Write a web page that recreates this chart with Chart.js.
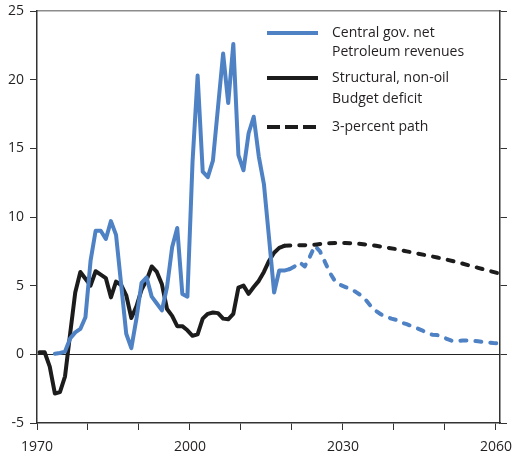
<!DOCTYPE html>
<html>
<head>
<meta charset="utf-8">
<script src="https://cdn.jsdelivr.net/npm/chart.js@4.4.1/dist/chart.umd.min.js"></script>
<style>
    html, body { margin: 0; padding: 0; background: #fff; }
</style>
</head>
<body>
<canvas id="budgetChart" width="512" height="458"></canvas>
<script>
// central gov. net petroleum revenues, historical (solid)
var revYears = [1973, 1974, 1975, 1976, 1977, 1978, 1979, 1980, 1981, 1982, 1983, 1984, 1985, 1986, 1987, 1988, 1989,
    1990, 1991, 1992, 1993, 1994, 1995, 1996, 1997, 1998, 1999, 2000, 2001, 2002, 2003, 2004, 2005, 2006, 2007, 2008,
    2009, 2010, 2011, 2012, 2013, 2014, 2015, 2016, 2017, 2018, 2019];
var revValues = [0.05, 0.1, 0.2, 1.15, 1.6, 1.85, 2.7, 6.8, 9.0, 9.0, 8.4, 9.7, 8.7, 5.1, 1.5, 0.45, 2.6,
    5.2, 5.6, 4.2, 3.7, 3.2, 4.9, 7.8, 9.2, 4.4, 4.2, 14.0, 20.3, 13.3, 12.9, 14.1, 18.0, 21.9, 18.3, 22.6,
    14.5, 13.4, 16.1, 17.3, 14.4, 12.4, 8.5, 4.5, 6.1, 6.1, 6.2];

// petroleum revenues, projection (dashed)
var revProjYears = [2019, 2020, 2021, 2022, 2023, 2024, 2025, 2026, 2027, 2028, 2029, 2030, 2031, 2032, 2033, 2034,
    2035, 2036, 2037, 2038, 2039, 2040, 2041, 2042, 2043, 2044, 2045, 2046, 2047, 2048, 2049, 2050, 2051, 2052,
    2053, 2054, 2055, 2056, 2057, 2058, 2059, 2060];
var revProjValues = [6.2, 6.4, 6.7, 6.4, 7.1, 7.9, 7.5, 6.7, 5.9, 5.3, 5.05, 4.9, 4.75, 4.55, 4.3, 3.95,
    3.5, 3.15, 2.9, 2.75, 2.6, 2.5, 2.3, 2.2, 2.05, 1.9, 1.75, 1.55, 1.43, 1.4, 1.3, 1.1, 0.97, 0.98,
    1.0, 1.0, 0.98, 0.95, 0.9, 0.86, 0.82, 0.8];

// structural, non-oil budget deficit
var deficitYears = [1970, 1971, 1972, 1973, 1974, 1975, 1976, 1977, 1978, 1979, 1980, 1981, 1982, 1983, 1984, 1985,
    1986, 1987, 1988, 1989, 1990, 1991, 1992, 1993, 1994, 1995, 1996, 1997, 1998, 1999, 2000, 2001, 2002, 2003,
    2004, 2005, 2006, 2007, 2008, 2009, 2010, 2011, 2012, 2013, 2014, 2015, 2016, 2017, 2018];
var deficitValues = [0.15, 0.15, -0.9, -2.85, -2.75, -1.6, 1.5, 4.5, 6.0, 5.5, 5.0, 6.05, 5.8, 5.55, 4.15, 5.3,
    5.05, 4.3, 2.65, 3.5, 4.7, 5.4, 6.4, 6.0, 5.1, 3.3, 2.8, 2.05, 2.05, 1.75, 1.35, 1.45, 2.6, 2.95,
    3.05, 3.0, 2.6, 2.55, 2.95, 4.85, 5.0, 4.4, 4.9, 5.35, 6.0, 6.8, 7.4, 7.75, 7.9];

// 3-percent path
var pathYears = [2018, 2019, 2020, 2022, 2024, 2026, 2028, 2030, 2032, 2034, 2036, 2038, 2040, 2042, 2044, 2046,
    2048, 2050, 2052, 2054, 2056, 2058, 2060];
var pathValues = [7.9, 7.92, 7.93, 7.95, 7.98, 8.08, 8.1, 8.1, 8.07, 8.0, 7.9, 7.78, 7.66, 7.5, 7.35, 7.2,
    7.05, 6.88, 6.7, 6.5, 6.3, 6.1, 5.9];

var yTicks = [-5, 0, 5, 10, 15, 20, 25];
var xLabels = [1970, 2000, 2030, 2060];

var legendItems = [
    { lines: ['Central gov. net', 'Petroleum revenues'], color: '#4f82c4', dash: [] },
    { lines: ['Structural, non-oil', 'Budget deficit'], color: '#1c1c1c', dash: [] },
    { lines: ['3-percent path'], color: '#1c1c1c', dash: [13, 5] }
];

var BLUE = '#4f82c4';
var BLACK = '#1c1c1c';
var TEXT = '#231f20';

// values are annual, plotted at mid-year
function toPoints(years, values) {
    return years.map(function (yr, i) {
        return { x: yr + 0.5, y: values[i] };
    });
}

function lineSet(label, data, color, dashed) {
    return {
        label: label,
        data: data,
        borderColor: color,
        borderWidth: 4,
        borderDash: dashed ? [6, 9] : [],
        borderCapStyle: 'round',
        borderJoinStyle: 'round',
        pointRadius: 0,
        tension: 0,
        fill: false
    };
}

// keep the plot area fixed, labels may overhang
function fixHoriz(h) {
    return function (s) {
        s.height = h;
        s.paddingLeft = 0;
        s.paddingRight = 0;
    };
}
function fixVert(w) {
    return function (s) {
        s.width = w;
        s.paddingTop = 0;
        s.paddingBottom = 0;
    };
}

var legendPlugin = {
    id: 'sideLegend',
    afterDraw: function (chart) {
        var ctx = chart.ctx;
        var rows = [[33, 52], [78, 99], [127]];
        ctx.save();
        ctx.font = '14px "Open Sans"';
        ctx.fillStyle = TEXT;
        ctx.textBaseline = 'middle';
        ctx.textAlign = 'left';
        legendItems.forEach(function (item, i) {
            var y0 = rows[i][0];
            ctx.beginPath();
            ctx.lineWidth = 4;
            ctx.strokeStyle = item.color;
            ctx.setLineDash(item.dash);
            ctx.moveTo(267, y0);
            ctx.lineTo(318, y0);
            ctx.stroke();
            item.lines.forEach(function (t, j) {
                ctx.fillText(t, 332, rows[i][j]);
            });
        });
        ctx.restore();
    }
};

var ctxMain = document.getElementById('budgetChart');
new Chart(ctxMain, {
    type: 'line',
    data: {
        datasets: [
            lineSet('3-percent path', toPoints(pathYears, pathValues), BLACK, true),
            lineSet('Petroleum revenues, projection', toPoints(revProjYears, revProjValues), BLUE, true),
            lineSet('Central gov. net Petroleum revenues', toPoints(revYears, revValues), BLUE, false),
            lineSet('Structural, non-oil Budget deficit', toPoints(deficitYears, deficitValues), BLACK, false)
        ]
    },
    options: {
        responsive: false,
        animation: false,
        layout: { padding: 0 },
        plugins: {
            legend: { display: false },
            tooltip: { enabled: false }
        },
        scales: {
            x: {
                type: 'linear',
                position: 'bottom',
                min: 1970,
                max: 2060.8,
                afterFit: fixHoriz(35),
                ticks: {
                    stepSize: 10,
                    includeBounds: false,
                    autoSkip: false,
                    maxRotation: 0,
                    padding: 9,
                    color: TEXT,
                    font: { family: 'Open Sans', size: 14 },
                    callback: function (v) {
                        return xLabels.indexOf(v) >= 0 ? String(v) : '';
                    }
                },
                grid: { drawOnChartArea: false, tickLength: 7, tickColor: '#333', lineWidth: 1 },
                border: { color: '#333', width: 1.5 }
            },
            xTop: {
                type: 'linear',
                position: 'top',
                min: 1970,
                max: 2060.8,
                afterFit: fixHoriz(11),
                ticks: { display: false },
                grid: { display: false },
                border: { color: '#8c8c8c', width: 1.5 }
            },
            y: {
                min: -5,
                max: 25,
                afterFit: fixVert(37),
                afterBuildTicks: function (s) {
                    s.ticks = yTicks.map(function (v) { return { value: v }; });
                },
                ticks: {
                    padding: 6,
                    color: TEXT,
                    font: { family: 'Open Sans', size: 14 }
                },
                grid: {
                    color: function (c) { return c.tick && c.tick.value === 0 ? '#222' : 'rgba(0,0,0,0)'; },
                    tickColor: '#333',
                    tickLength: 7,
                    lineWidth: 1
                },
                border: { color: '#333', width: 1.5 }
            },
            y2: {
                position: 'right',
                min: -5,
                max: 25,
                afterFit: fixVert(12),
                afterBuildTicks: function (s) {
                    s.ticks = yTicks.map(function (v) { return { value: v }; });
                },
                ticks: { callback: function () { return ''; } },
                grid: { drawOnChartArea: false, tickColor: '#333', tickLength: 7, lineWidth: 1 },
                border: { color: '#333', width: 1.5 }
            }
        }
    },
    plugins: [legendPlugin]
});
</script>
</body>
</html>
